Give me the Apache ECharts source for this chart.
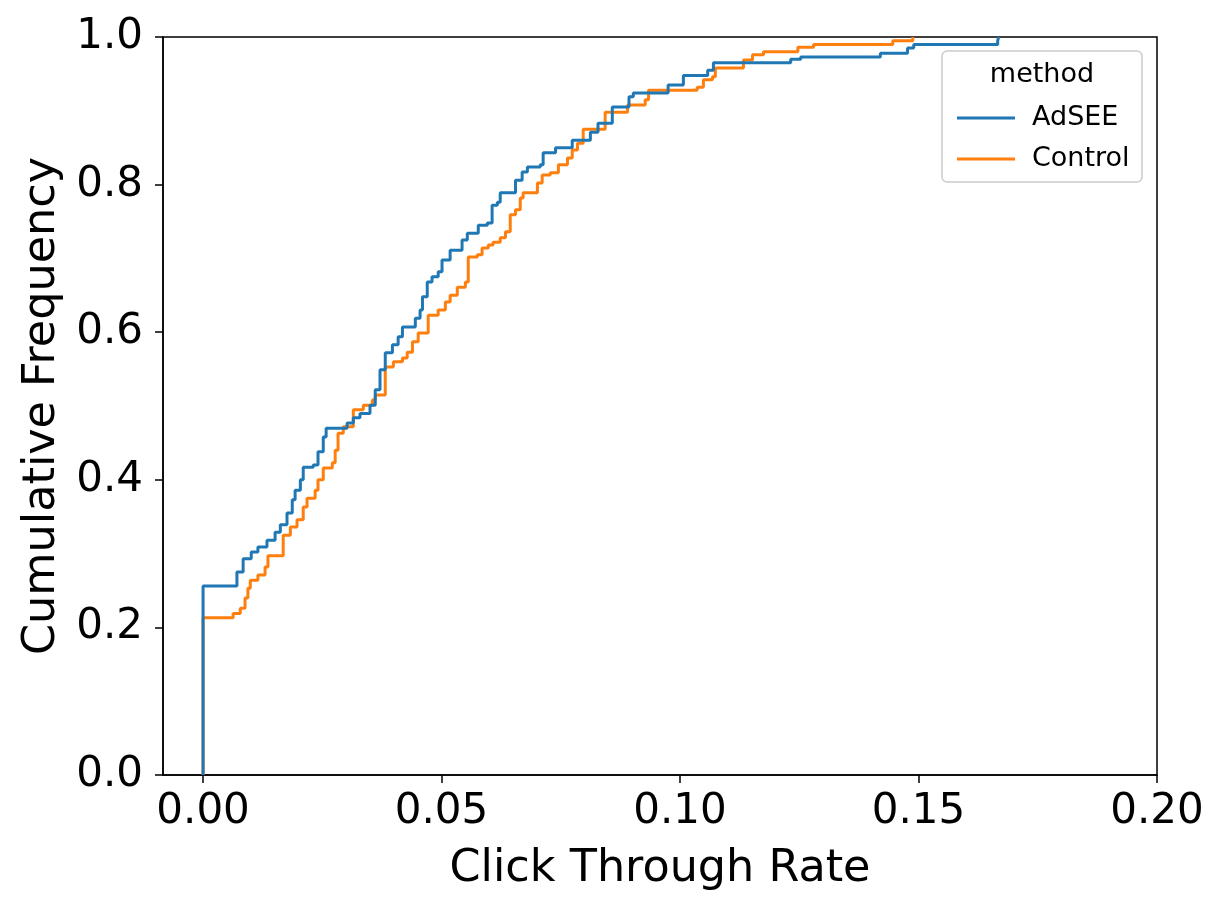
<!DOCTYPE html>
<html>
<head>
<meta charset="utf-8">
<script src="https://cdn.jsdelivr.net/npm/echarts@6/dist/echarts.min.js"></script>
<style>
  html, body { margin: 0; padding: 0; background: #fff; }
  #chart { width: 1226px; height: 913px; }
</style>
</head>
<body>
<div id="chart"></div>
<script>
// ECDF steps: [click through rate, cumulative frequency]
var adseeSteps = [
  [0, 0], [0, 0.256], [0.0071, 0.275], [0.0084, 0.293], [0.0101, 0.302], [0.0115, 0.309],
  [0.0134, 0.318], [0.0151, 0.329], [0.0162, 0.339], [0.0176, 0.355], [0.0187, 0.373],
  [0.0193, 0.386], [0.0204, 0.400], [0.0210, 0.417], [0.0231, 0.420], [0.0241, 0.438],
  [0.0252, 0.458], [0.0258, 0.470], [0.0302, 0.477], [0.0315, 0.484], [0.0329, 0.490],
  [0.0350, 0.501], [0.0361, 0.522], [0.0371, 0.549], [0.0382, 0.572], [0.0397, 0.583],
  [0.0409, 0.594], [0.0418, 0.607], [0.0445, 0.619], [0.0455, 0.630], [0.0460, 0.648],
  [0.0470, 0.668], [0.0480, 0.675], [0.0493, 0.682], [0.0501, 0.698], [0.0518, 0.711],
  [0.0543, 0.725], [0.0554, 0.734], [0.0577, 0.745], [0.0596, 0.748], [0.0606, 0.772],
  [0.0617, 0.776], [0.0623, 0.789], [0.0655, 0.806], [0.0669, 0.817], [0.0680, 0.824],
  [0.0707, 0.827], [0.0713, 0.843], [0.0739, 0.850], [0.0774, 0.860], [0.0812, 0.871],
  [0.0828, 0.883], [0.0858, 0.905], [0.0893, 0.919], [0.0902, 0.924], [0.0975, 0.935],
  [0.1007, 0.948], [0.1058, 0.955], [0.1070, 0.965], [0.1232, 0.970], [0.1253, 0.973],
  [0.1420, 0.978], [0.1477, 0.985], [0.1490, 0.990], [0.1666, 0.995], [0.1668, 1.000]
];
var controlSteps = [
  [0, 0], [0, 0.213], [0.0063, 0.219], [0.0078, 0.226], [0.0088, 0.240], [0.0094, 0.253],
  [0.0099, 0.264], [0.0115, 0.271], [0.0130, 0.282], [0.0136, 0.297], [0.0168, 0.325],
  [0.0183, 0.336], [0.0197, 0.346], [0.0210, 0.363], [0.0218, 0.375], [0.0235, 0.386],
  [0.0241, 0.400], [0.0252, 0.416], [0.0271, 0.423], [0.0277, 0.440], [0.0283, 0.463],
  [0.0294, 0.472], [0.0315, 0.495], [0.0336, 0.501], [0.0355, 0.508], [0.0361, 0.515],
  [0.0382, 0.553], [0.0399, 0.560], [0.0418, 0.565], [0.0428, 0.573], [0.0439, 0.587],
  [0.0451, 0.599], [0.0472, 0.623], [0.0493, 0.630], [0.0508, 0.641], [0.0518, 0.650],
  [0.0533, 0.661], [0.0550, 0.668], [0.0556, 0.702], [0.0575, 0.705], [0.0585, 0.714],
  [0.0598, 0.718], [0.0608, 0.722], [0.0623, 0.728], [0.0634, 0.736], [0.0644, 0.759],
  [0.0655, 0.766], [0.0665, 0.782], [0.0671, 0.789], [0.0701, 0.802], [0.0711, 0.813],
  [0.0728, 0.816], [0.0745, 0.827], [0.0764, 0.836], [0.0774, 0.847], [0.0785, 0.856],
  [0.0797, 0.875], [0.0843, 0.898], [0.0890, 0.908], [0.0927, 0.915], [0.0934, 0.928],
  [0.1036, 0.932], [0.1049, 0.942], [0.1068, 0.946], [0.1074, 0.958], [0.1133, 0.969],
  [0.1152, 0.976], [0.1175, 0.980], [0.1247, 0.986], [0.1280, 0.990], [0.1446, 0.995],
  [0.1488, 1.000]
];
var xTicks = [0, 0.05, 0.10, 0.15, 0.20];
var methods = ['AdSEE', 'Control'];

var font = 'DejaVu Sans';
var blue = '#1f77b4';
var orange = '#ff7f0e';

var chart = echarts.init(document.getElementById('chart'), null, { renderer: 'canvas' });
chart.setOption({
  animation: false,
  backgroundColor: '#fff',
  textStyle: { fontFamily: font },
  grid: {
    left: 163, right: 69, top: 37, bottom: 138,
    show: true, borderColor: '#000', borderWidth: 1.5, backgroundColor: 'transparent'
  },
  xAxis: {
    type: 'value',
    min: -0.0084,
    max: 0.2,
    name: 'Click Through Rate',
    nameLocation: 'middle',
    nameGap: 72,
    nameTextStyle: { color: '#000', fontSize: 44.5, fontFamily: font },
    axisLine: { show: true, onZero: false, lineStyle: { color: '#000', width: 1.5 } },
    axisTick: { show: true, customValues: xTicks, length: 8, lineStyle: { color: '#000', width: 1.5 } },
    axisLabel: {
      customValues: xTicks,
      color: '#000', fontSize: 42, fontFamily: font, margin: 16,
      formatter: function (v) { return v.toFixed(2); }
    },
    splitLine: { show: false }
  },
  yAxis: {
    type: 'value',
    min: 0,
    max: 1,
    interval: 0.2,
    name: 'Cumulative Frequency',
    nameLocation: 'middle',
    nameGap: 90,
    nameTextStyle: { color: '#000', fontSize: 44.5, fontFamily: font },
    axisLine: { show: true, onZero: false, lineStyle: { color: '#000', width: 1.5 } },
    axisTick: { show: true, length: 8, lineStyle: { color: '#000', width: 1.5 } },
    axisLabel: {
      color: '#000', fontSize: 42, fontFamily: font, margin: 20,
      formatter: function (v) { return v.toFixed(1); }
    },
    splitLine: { show: false }
  },
  legend: {
    data: methods,
    orient: 'vertical',
    z: 10,
    left: 952,
    top: 99,
    itemWidth: 58,
    itemHeight: 3,
    itemGap: 13,
    icon: 'rect',
    textStyle: { color: '#000', fontSize: 27, fontFamily: font, lineHeight: 28, padding: [0, 0, 0, 12] }
  },
  graphic: [
    {
      type: 'rect', z: 1, silent: true,
      shape: { x: 942, y: 51, width: 200, height: 131, r: 5 },
      style: { fill: '#fff', stroke: '#cccccc', lineWidth: 1.5 }
    },
    {
      type: 'text', z: 2, silent: true,
      style: { x: 1042, y: 75, text: 'method', fill: '#000', font: '27px "DejaVu Sans"', align: 'center', verticalAlign: 'middle' }
    }
  ],
  series: [
    {
      name: methods[1],
      type: 'line',
      step: 'end',
      showSymbol: false,
      lineStyle: { color: orange, width: 3 },
      itemStyle: { color: orange },
      data: controlSteps
    },
    {
      name: methods[0],
      type: 'line',
      step: 'end',
      showSymbol: false,
      lineStyle: { color: blue, width: 3 },
      itemStyle: { color: blue },
      data: adseeSteps
    }
  ]
});
</script>
</body>
</html>
